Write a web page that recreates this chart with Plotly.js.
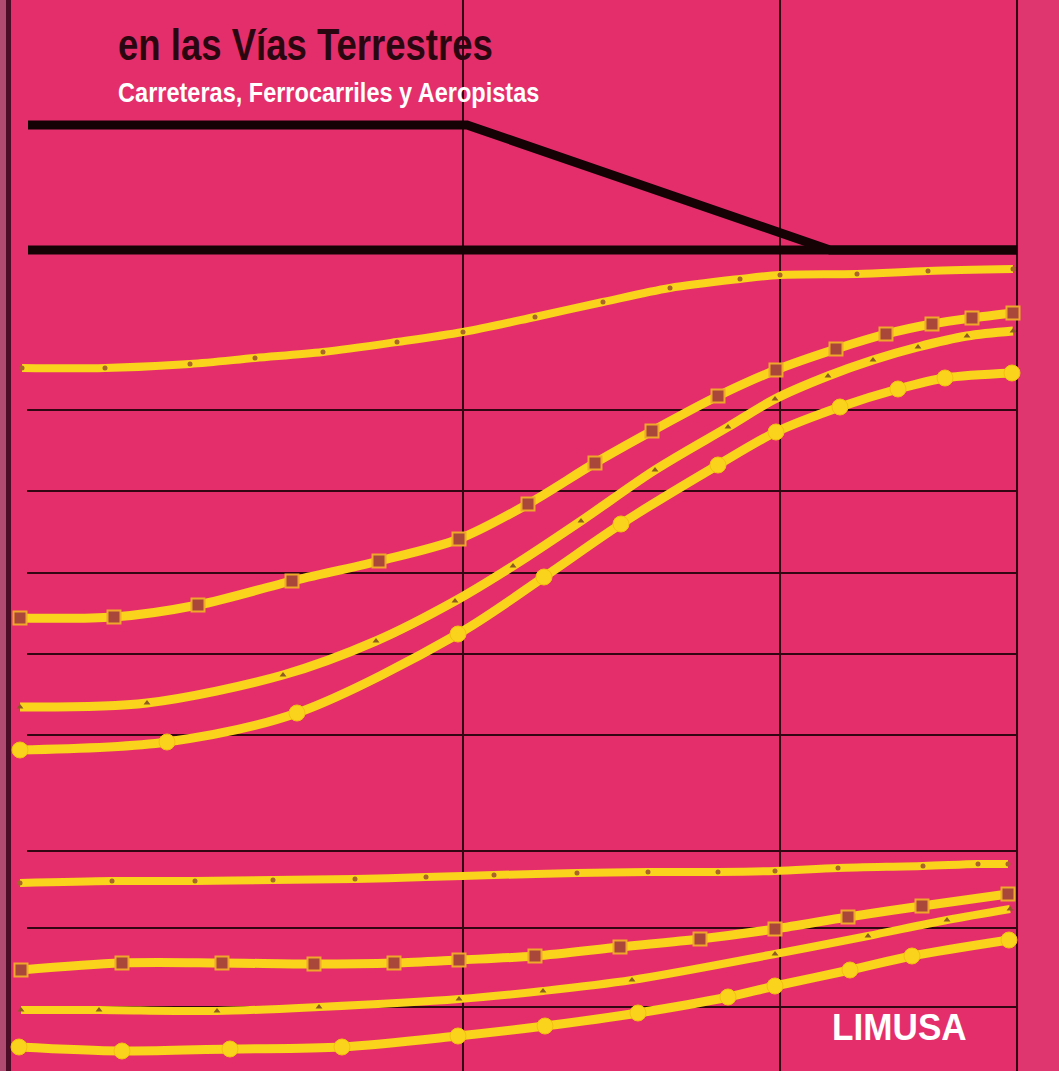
<!DOCTYPE html>
<html>
<head>
<meta charset="utf-8">
<script src="https://cdn.plot.ly/plotly-3.0.1.min.js"></script>
<style>html,body{margin:0;padding:0;background:#E42E6C;}#chart{width:1059px;height:1071px;}</style>
</head>
<body>
<div id="chart"></div>
<script>
// ---- Data (horizontal position, vertical position in picture units) ----
// Upper group of curves
const xA1 = [22,105,190,255,323,397,463,535,603,670,740,780,857,928,1013];
const yA1 = [368,368,364,358,352,342,332,317,302,288,279,275,274,271,269];

const xB1 = [20,114,198,292,379,459,528,595,652,718,776,836,886,932,972,1013];
const yB1 = [618,617,605,581,561,539,504,463,431,396,370,349,334,324,318,313];

const xC1 = [20,147,283,376,455,513,581,655,728,775,828,873,918,967,1013];
const yC1 = [707,703,675,641,601,566,521,470,427,399,376,360,347,336,331];

const xD1 = [20,167,297,458,544,621,718,776,840,898,945,1012];
const yD1 = [750,742,713,634,577,524,465,432,407,389,378,373];

// Lower group of curves
const xA2 = [20,112,195,273,355,426,494,577,648,718,775,838,923,978,1008];
const yA2 = [883,881,881,880,879,877,875,873,872,872,871,868,866,864,864];

const xB2 = [21,122,222,314,394,459,535,620,700,775,848,922,1008];
const yB2 = [970,963,963,964,963,960,956,947,939,929,917,906,894];

const xC2 = [21,99,217,319,459,543,632,775,868,947,1010];
const yC2 = [1010,1010,1011,1007,999,991,980,954,936,920,909];

const xD2 = [19,122,230,342,458,545,638,728,775,850,912,1009];
const yD2 = [1047,1051,1049,1047,1036,1026,1013,997,986,970,956,940];

// Thick black profile lines
const xProfileTop = [28,467,830,1017];
const yProfileTop = [125,125,250,250];
const xProfileBase = [28,1017];
const yProfileBase = [250,250];

// Grid positions
const xGrid = [463,780,1017];
const yGrid = [410,491,573,654,735,851,928,1007];
const gridStart = 27, gridEnd = 1017;

// Texts
const titleText = "en las Vías Terrestres";
const subtitleText = "Carreteras, Ferrocarriles y Aeropistas";
const publisherText = "LIMUSA";

// ---- Styles ----
const PINK = "#E42E6C";
const YELLOW = "#F9D31C";
const GRID = "#330613";

function curve(x, y, kind, width) {
  let marker;
  if (kind === "dot") marker = {symbol: "circle", size: 5, color: "#a8642a"};
  else if (kind === "square") marker = {symbol: "square", size: 13, color: "#a9473a", line: {color: "#f0a82a", width: 2}};
  else if (kind === "tri") marker = {symbol: "triangle-up", size: 6, color: "#8c5a22"};
  else marker = {symbol: "circle", size: 16, color: YELLOW, line: {color: "#f5c010", width: 1}};
  return {x: x, y: y, type: "scatter", mode: "lines+markers",
    line: {color: YELLOW, width: width, shape: "spline", smoothing: 0.9},
    marker: marker, hoverinfo: "skip", showlegend: false, cliponaxis: false};
}

const traces = [
  {x: xProfileTop, y: yProfileTop, type: "scatter", mode: "lines", line: {color: "#150205", width: 9}, hoverinfo: "skip", showlegend: false},
  {x: xProfileBase, y: yProfileBase, type: "scatter", mode: "lines", line: {color: "#150205", width: 9}, hoverinfo: "skip", showlegend: false},
  curve(xA1, yA1, "dot", 8),
  curve(xB1, yB1, "square", 9),
  curve(xC1, yC1, "tri", 9),
  curve(xD1, yD1, "circle", 9),
  curve(xA2, yA2, "dot", 8),
  curve(xB2, yB2, "square", 9),
  curve(xC2, yC2, "tri", 8),
  curve(xD2, yD2, "circle", 9)
];

const shapes = [
  {type: "rect", xref: "x", yref: "y", x0: 1019, x1: 1059, y0: 0, y1: 1071, fillcolor: "#E0366F", line: {width: 0}, layer: "below"},
  {type: "rect", xref: "x", yref: "y", x0: 0, x1: 6, y0: 0, y1: 1071, fillcolor: "#b04a70", line: {width: 0}, layer: "below"},
  {type: "rect", xref: "x", yref: "y", x0: 6, x1: 11, y0: 0, y1: 1071, fillcolor: "#4a0c26", line: {width: 0}, layer: "below"}
];
yGrid.forEach(v => shapes.push({type: "line", xref: "x", yref: "y", x0: gridStart, x1: gridEnd, y0: v, y1: v, line: {color: GRID, width: 1.8}, layer: "below"}));

const font = "Liberation Sans, Arial, sans-serif";

const layout = {
  width: 1059, height: 1071,
  margin: {l: 0, r: 0, t: 0, b: 0, pad: 0},
  paper_bgcolor: PINK, plot_bgcolor: PINK,
  showlegend: false,
  xaxis: {range: [0, 1059], tickvals: xGrid, showgrid: true, gridcolor: GRID, gridwidth: 1.8,
          showticklabels: false, ticks: "", zeroline: false, showline: false, fixedrange: true},
  yaxis: {range: [1071, 0], showgrid: false, showticklabels: false, ticks: "", zeroline: false, showline: false, fixedrange: true},
  shapes: shapes,
  annotations: [
    {text: "<b>" + titleText + "</b>", xref: "x", yref: "y", x: 116, y: 44, xanchor: "left", yanchor: "middle", showarrow: false,
     font: {family: font, size: 44, color: "#2a0710"}},
    {text: "<b>" + subtitleText + "</b>", xref: "x", yref: "y", x: 116, y: 92, xanchor: "left", yanchor: "middle", showarrow: false,
     font: {family: font, size: 28, color: "#ffffff"}},
    {text: "<b>" + publisherText + "</b>", xref: "x", yref: "y", x: 830, y: 1027, xanchor: "left", yanchor: "middle", showarrow: false,
     font: {family: font, size: 37, color: "#ffffff"}}
  ]
};

// Condensed look of the cover lettering (no narrow font installed): squeeze horizontally
const squeeze = [0.83, 0.84, 0.95];

Plotly.newPlot("chart", traces, layout, {displayModeBar: false, staticPlot: true}).then(gd => {
  const texts = gd.querySelectorAll(".annotation-text");
  texts.forEach((t, i) => {
    const s = squeeze[i];
    if (!s) return;
    const bx = t.getBBox().x;
    const prev = t.getAttribute("transform") || "";
    t.setAttribute("transform", prev + " translate(" + bx + ",0) scale(" + s + ",1) translate(" + (-bx) + ",0)");
  });
});
</script>
</body>
</html>
